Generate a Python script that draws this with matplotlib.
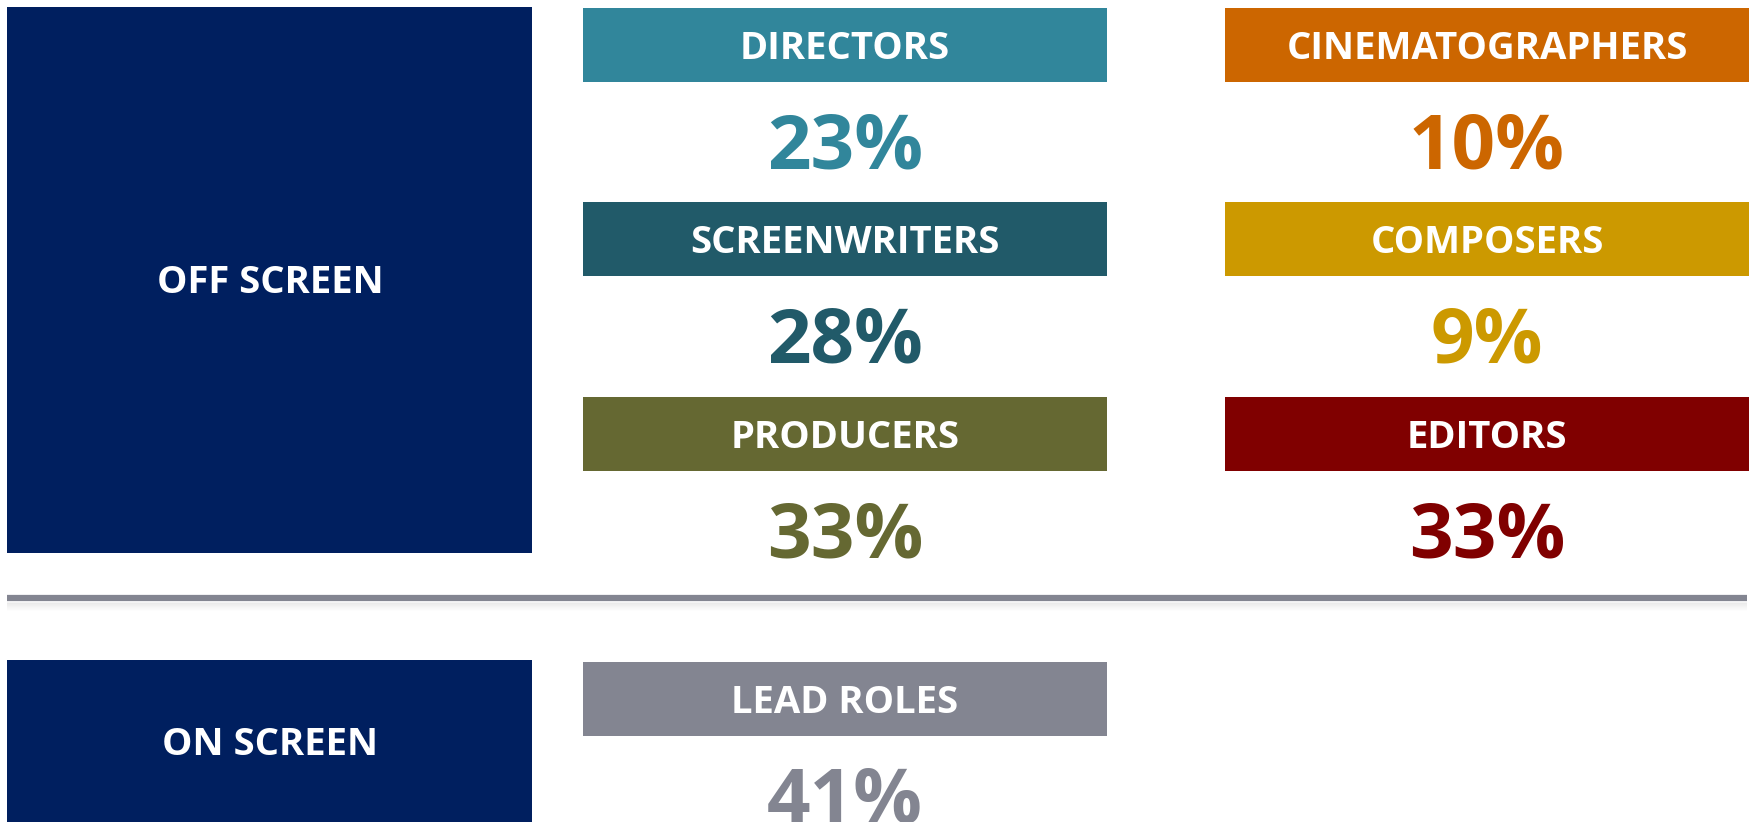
import matplotlib.pyplot as plt
from matplotlib.patches import Rectangle

# off screen roles, two columns of three
off_roles = ["DIRECTORS", "SCREENWRITERS", "PRODUCERS",
             "CINEMATOGRAPHERS", "COMPOSERS", "EDITORS"]
off_shares = [23, 28, 33, 10, 9, 33]
off_colors = ["#31869b", "#215a69", "#656832",
              "#cc6600", "#cc9900", "#800000"]

on_roles = ["LEAD ROLES"]
on_shares = [41]
on_colors = ["#838591"]

groups = ["OFF SCREEN", "ON SCREEN"]
navy = "#001f5f"

plt.rcParams['font.family'] = ['Open Sans', 'DejaVu Sans']

fig = plt.figure(figsize=(17.52, 8.22), dpi=100)
ax = fig.add_axes([0, 0, 1, 1])
ax.set_xlim(0, 1752)
ax.set_ylim(822, 0)
ax.axis("off")

col_x = [583, 1225]
box_w = 524
head_y = [8, 202, 397]
head_h = 74


def card(x, y, name, share, color):
    ax.add_patch(Rectangle((x, y), box_w, head_h, color=color, lw=0))
    ax.text(x + box_w / 2, y + head_h / 2 + 4, name, color="white",
            fontsize=27.5, fontweight="bold", ha="center", va="center")
    ax.text(x + box_w / 2, y + head_h + 67, f"{share}%", color=color,
            fontsize=55, fontweight="bold", ha="center", va="center")


# off screen block
ax.add_patch(Rectangle((7, 7), 525, 546, color=navy, lw=0))
ax.text(270, 283, groups[0], color="white", fontsize=27.5,
        fontweight="bold", ha="center", va="center")
for i, (name, share, color) in enumerate(zip(off_roles, off_shares, off_colors)):
    card(col_x[i // 3], head_y[i % 3], name, share, color)

# divider with a soft shadow
for k in range(8):
    ax.plot([7, 1747], [603 + k, 603 + k], color="#000000",
            alpha=0.05 * (8 - k) / 8, lw=1.2, solid_capstyle="butt")
ax.plot([7, 1747], [598, 598], color="#838591", lw=4.5, solid_capstyle="butt")

# on screen block
ax.add_patch(Rectangle((7, 660), 525, 200, color=navy, lw=0))
ax.text(270, 745, groups[1], color="white", fontsize=27.5,
        fontweight="bold", ha="center", va="center")
for name, share, color in zip(on_roles, on_shares, on_colors):
    card(col_x[0], 662, name, share, color)

fig.savefig("out.png", dpi=100)
